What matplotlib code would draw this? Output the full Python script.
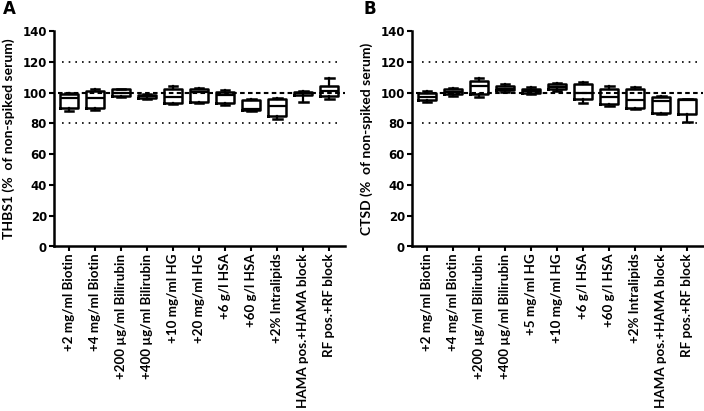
import matplotlib
matplotlib.use("Agg")
import matplotlib.pyplot as plt

# ---------------- data ----------------
labels_a = ["+2 mg/ml Biotin", "+4 mg/ml Biotin", "+200 µg/ml Bilirubin", "+400 µg/ml Bilirubin",
            "+10 mg/ml HG", "+20 mg/ml HG", "+6 g/l HSA", "+60 g/l HSA", "+2% Intralipids",
            "HAMA pos.+HAMA block", "RF pos.+RF block"]
min_a = [88, 88.5, 97, 96, 92.5, 93, 92, 88, 83, 94, 96]
q1_a = [90, 90, 98, 96.5, 93.5, 94, 93, 89, 85, 98.5, 98]
med_a = [96.5, 96.5, 100, 97.5, 97, 100.5, 98.5, 89.5, 91.5, 99.5, 101]
q3_a = [99, 101, 102, 98.5, 102.5, 102, 100.5, 95, 95.5, 100.5, 104]
max_a = [100, 102, 102.5, 99, 104, 103, 101.5, 96, 96.5, 101, 109.5]

labels_b = ["+2 mg/ml Biotin", "+4 mg/ml Biotin", "+200 µg/ml Bilirubin", "+400 µg/ml Bilirubin",
            "+5 mg/ml HG", "+10 mg/ml HG", "+6 g/l HSA", "+60 g/l HSA", "+2% Intralipids",
            "HAMA pos.+HAMA block", "RF pos.+RF block"]
min_b = [94, 98, 97, 100.5, 99, 101, 93, 91, 89.5, 86, 81]
q1_b = [95, 99, 99, 101.5, 100, 102, 95.5, 92.5, 90, 87, 86]
med_b = [97, 100.5, 104, 102.5, 101, 103.5, 100, 97, 95, 94.5, 95]
q3_b = [99.5, 102, 107.5, 104.5, 102.5, 105.5, 105.5, 102, 102, 97, 95.5]
max_b = [101, 103, 109.5, 105.5, 103.5, 106.5, 107, 104, 103.5, 98, 96]

yticks = [0, 20, 40, 60, 80, 100, 120, 140]
ylabel_a = "THBS1 (%  of non-spiked serum)"
ylabel_b = "CTSD (%  of non-spiked serum)"

# ---------------- figure ----------------
W, H = 704, 411
fig = plt.figure(figsize=(W / 100, H / 100), dpi=100)

def px_axes(x0, x1, ytop, ybot):
    return fig.add_axes([x0 / W, 1 - ybot / H, (x1 - x0) / W, (ybot - ytop) / H])

ax_a = px_axes(54, 345, 31, 246.5)
ax_b = px_axes(412, 703, 31, 246.5)

lab_font = dict(family=["Lato", "DejaVu Sans"], weight="bold", size=9.6)

def panel(ax, labels, mins, q1s, meds, q3s, maxs, ylabel, letter, dotted_x0, letter_x):
    n = len(labels)
    x = list(range(n))
    ax.set_xlim(-0.57, 10.6)
    ax.set_ylim(0, 140)
    # reference lines
    ax.plot([dotted_x0, 10.45], [120, 120], color="black", lw=1.2, ls=(0, (1, 3)), zorder=1)
    ax.plot([dotted_x0, 10.45], [80, 80], color="black", lw=1.2, ls=(0, (1, 3)), zorder=1)
    ax.plot([-0.4, 10.6], [100, 100], color="black", lw=1.5, ls=(0, (2.2, 1.6)), zorder=1)
    stats = []
    for i in range(n):
        stats.append(dict(whislo=mins[i], q1=q1s[i], med=meds[i], q3=q3s[i], whishi=maxs[i]))
    ax.bxp(stats, positions=x, widths=0.7, showfliers=False, patch_artist=False,
           boxprops=dict(color="black", lw=1.8),
           medianprops=dict(color="black", lw=1.6),
           whiskerprops=dict(color="black", lw=1.6),
           capprops=dict(color="black", lw=1.8),
           capwidths=0.33, manage_ticks=False, zorder=3)
    ax.set_xticks(x)
    ax.set_xticklabels(labels, rotation=90, fontdict=lab_font)
    ax.set_yticks(yticks)
    ax.set_yticklabels([str(v) for v in yticks], fontdict=dict(family="DejaVu Sans", weight="bold", size=8.5))
    for s in ["top", "right"]:
        ax.spines[s].set_visible(False)
    for s in ["left", "bottom"]:
        ax.spines[s].set_linewidth(1.8)
    ax.tick_params(axis="both", direction="out", length=3.5, width=1.5, pad=1.5, colors="black")
    ax.set_ylabel(ylabel, fontdict=dict(family=["Lato", "DejaVu Sans"], weight="bold", size=10))
    ax.yaxis.set_label_coords(-0.135, 0.5)
    ax.text(letter_x, 1.10, letter, transform=ax.transAxes, fontsize=12, fontweight="bold",
            family="DejaVu Sans", ha="center", va="center")

panel(ax_a, labels_a, min_a, q1_a, med_a, q3_a, max_a, ylabel_a, "A", -0.27, -0.155)
panel(ax_b, labels_b, min_b, q1_b, med_b, q3_b, max_b, ylabel_b, "B", -0.17, -0.145)

fig.savefig("out.png", dpi=100)
